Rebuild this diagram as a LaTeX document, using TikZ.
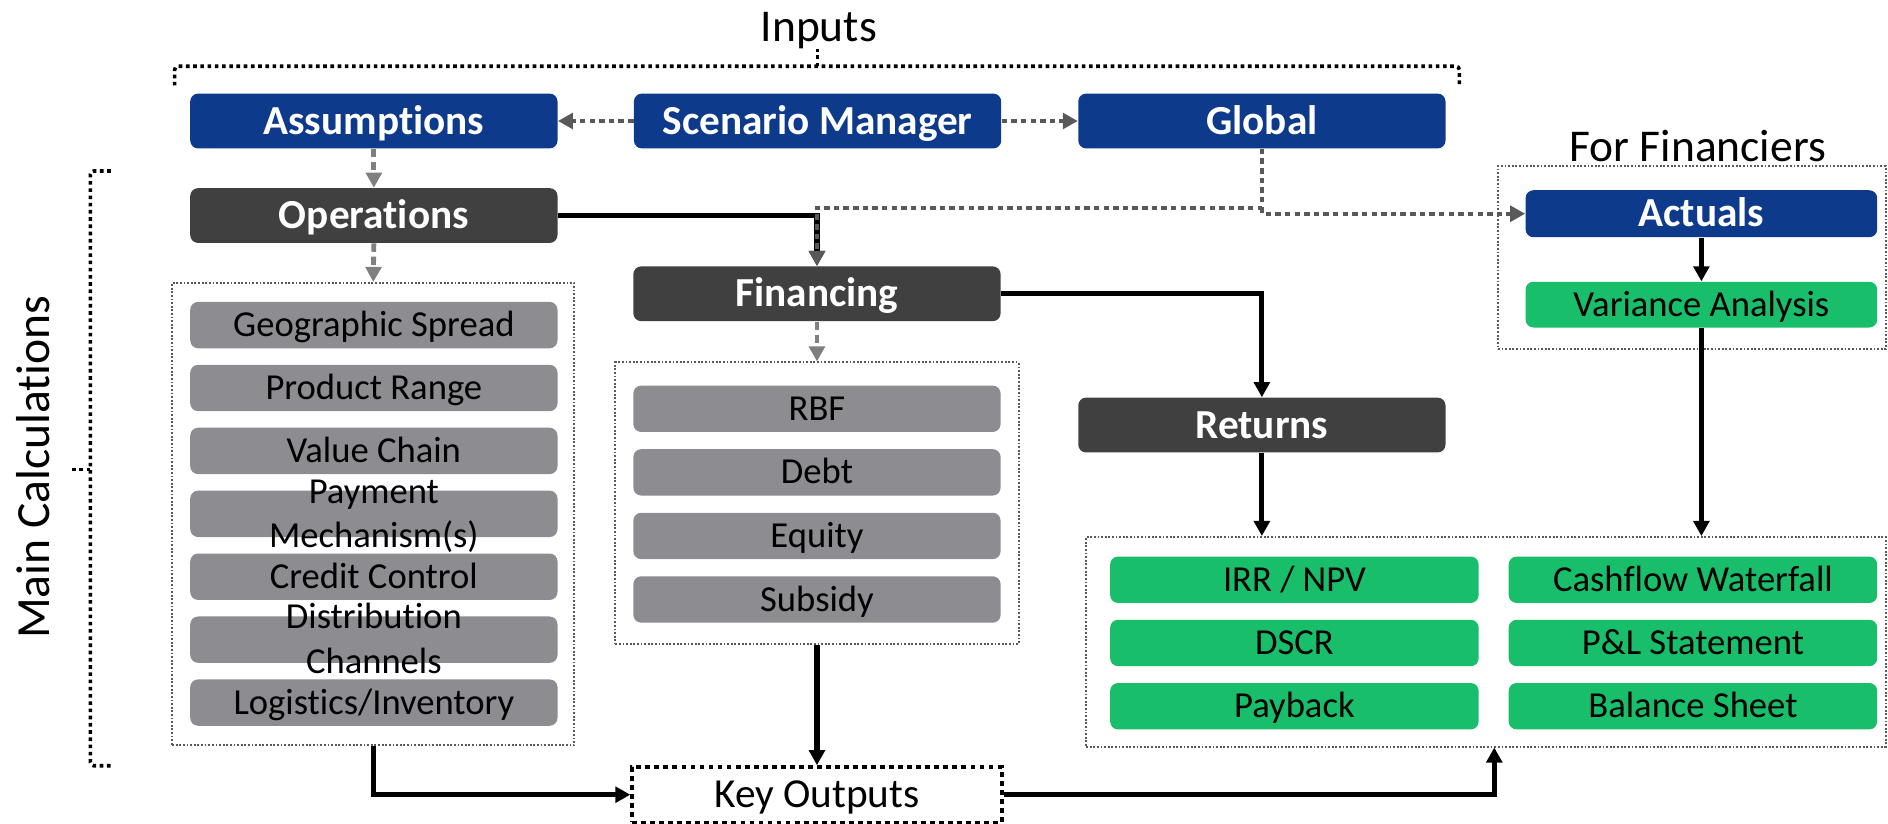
\documentclass[tikz,border=0pt]{standalone}
\usepackage{fontspec}
\setmainfont{Carlito}[Ligatures={NoCommon}]
\usetikzlibrary{arrows.meta}

\definecolor{headblue}{RGB}{14,58,140}
\definecolor{headdark}{RGB}{64,64,64}
\definecolor{itemgray}{RGB}{140,140,145}
\definecolor{itemgreen}{RGB}{24,190,106}
\definecolor{linkgray}{RGB}{128,128,128}
\definecolor{dotgray}{RGB}{89,89,89}

\begin{document}
\begin{tikzpicture}[x=0.2mm,y=-0.2mm,
    head/.style={rounded corners=1.3mm, minimum width=61mm, minimum height=9.1mm, inner sep=0pt,
      text=white, text height=12.3pt, text depth=0pt, font=\fontsize{19.5}{23}\selectfont\bfseries},
    item/.style={rounded corners=1.3mm, minimum width=61mm, minimum height=7.7mm, inner sep=0pt},
    itemtext/.style={align=center, inner sep=0pt, text height=10.9pt, text depth=0pt,
      font=\fontsize{17.3}{21}\selectfont},
    twoline/.style={text height=31.9pt},
    group/.style={draw=dotgray, line width=0.33mm, dash pattern=on 0.3mm off 0.3mm, inner sep=0pt},
    flow/.style={draw=black, line width=0.85mm, -{Triangle[length=2.5mm,width=2.6mm]}},
    dashflow/.style={draw=linkgray, line width=0.8mm, dash pattern=on 1.4mm off 0.8mm,
      -{Triangle[length=2.5mm,width=2.6mm]}},
    dotflow/.style={draw=dotgray, line width=0.7mm, dash pattern=on 0.9mm off 0.7mm,
      -{Triangle[length=2.5mm,width=2.6mm]}},
    brace/.style={draw=black, line width=0.6mm, dash pattern=on 0.6mm off 0.6mm}
  ]
  \useasboundingbox (0,0) rectangle (1568,684);

  % dotted frames round the groups
  \node[group, minimum width=66.8mm, minimum height=76.8mm] (opsgroup) at (310,427) {};
  \node[group, minimum width=67mm, minimum height=46.8mm] (fingroup) at (678.5,418) {};
  \node[group, minimum width=132.8mm, minimum height=34.8mm] (outgroup) at (1234,533) {};
  \node[group, minimum width=64.4mm, minimum height=30.4mm] (actgroup) at (1405,214) {};

  % brackets and titles
  \draw[brace, rounded corners=0.6mm] (145,71) -- (145,55) -- (1212,55) -- (1212,71);
  \draw[brace] (679,55) -- (679,41);
  \draw[brace, rounded corners=0.6mm] (92,142) -- (75,142) -- (75,636) -- (93,636);
  \draw[brace] (75,390) -- (60,390);
  \node[anchor=base, font=\fontsize{21.5}{26}\selectfont] (inputs) at (680,34.6) {Inputs};
  \node[anchor=base, font=\fontsize{21.5}{26}\selectfont] (financiers) at (1410,134) {For Financiers};
  \node[anchor=base, rotate=90, font=\fontsize{22.5}{26}\selectfont] (maincalc) at (41.5,388) {Main Calculations};

  % main blocks
  \node[head, fill=headblue] (assum) at (310.5,100.5) {Assumptions};
  \node[head, fill=headblue] (scen) at (679,100.5) {Scenario Manager};
  \node[head, fill=headblue] (glob) at (1048,100.5) {Global};
  \node[head, fill=headdark] (oper) at (310.5,179) {Operations};
  \node[head, fill=headdark] (fin) at (678.5,244) {Financing};
  \node[head, fill=headdark] (ret) at (1048,353) {Returns};
  \node[head, fill=headblue, minimum width=58.4mm, minimum height=7.8mm] (act) at (1413,177.5) {Actuals};
  \node[item, fill=itemgreen, minimum width=58.4mm, minimum height=7.6mm] (var) at (1413,253) {};
  \node[itemtext] at (var) {Variance Analysis};
  \node[draw=black, line width=0.6mm, dash pattern=on 0.8mm off 0.7mm, minimum width=61.4mm,
    minimum height=9.2mm, inner sep=0pt, text height=12.3pt, text depth=0pt,
    font=\fontsize{19.5}{23}\selectfont] (keyout) at (678.5,660) {Key Outputs};

  % item lists
  \foreach \txt/\sty [count=\i] in {Geographic Spread/, Product Range/, Value Chain/,
      Payment\\Mechanism(s)/twoline, Credit Control/, Distribution\\Channels/twoline,
      Logistics\slash Inventory/} {
    \node[item, fill=itemgray] (ops\i) at (310.5,{270+52.25*(\i-1)}) {};
    \node[itemtext, \sty] at (ops\i) {\txt};
  }
  \foreach \txt [count=\i] in {RBF, Debt, Equity, Subsidy} {
    \node[item, fill=itemgray] (fins\i) at (678.5,{339.5+52.8*(\i-1)}) {};
    \node[itemtext] at (fins\i) {\txt};
  }
  \foreach \txt [count=\i] in {IRR / NPV, DSCR, Payback} {
    \node[item, fill=itemgreen, minimum width=61.2mm] (retl\i) at (1075,{481.5+52.5*(\i-1)}) {};
    \node[itemtext] at (retl\i) {\txt};
  }
  \foreach \txt [count=\i] in {Cashflow Waterfall, P\&L Statement, Balance Sheet} {
    \node[item, fill=itemgreen, minimum width=61.2mm] (retr\i) at (1406,{481.5+52.5*(\i-1)}) {};
    \node[itemtext] at (retr\i) {\txt};
  }

  % connectors
  \draw[dotflow] (scen) -- (assum);
  \draw[dotflow] (scen) -- (glob);
  \draw[dashflow] (assum) -- (oper);
  \draw[dashflow] (oper.south) -- (opsgroup.north);
  \draw[dashflow] (fin.south) -- (fingroup.north);
  \draw[flow] (oper.east) -| (fin.north);
  \path (glob.south) ++(0,49) coordinate (split);
  \draw[dotflow] (glob.south) -- (split) -| (fin.north);
  \draw[dotflow] (split) |- (act.west);
  \draw[flow] (fin.east) -| (ret.north);
  \draw[flow] (act) -- (var);
  \draw[flow] (var.south) -- (var.south |- outgroup.north);
  \draw[flow] (ret.south) -- (ret.south |- outgroup.north);
  \draw[flow] (fingroup.south) -- (keyout.north);
  \draw[flow] (opsgroup.south) |- (keyout.west);
  \draw[flow] (keyout.east) -| ([xshift=1.4mm]outgroup.south);
\end{tikzpicture}
\end{document}
